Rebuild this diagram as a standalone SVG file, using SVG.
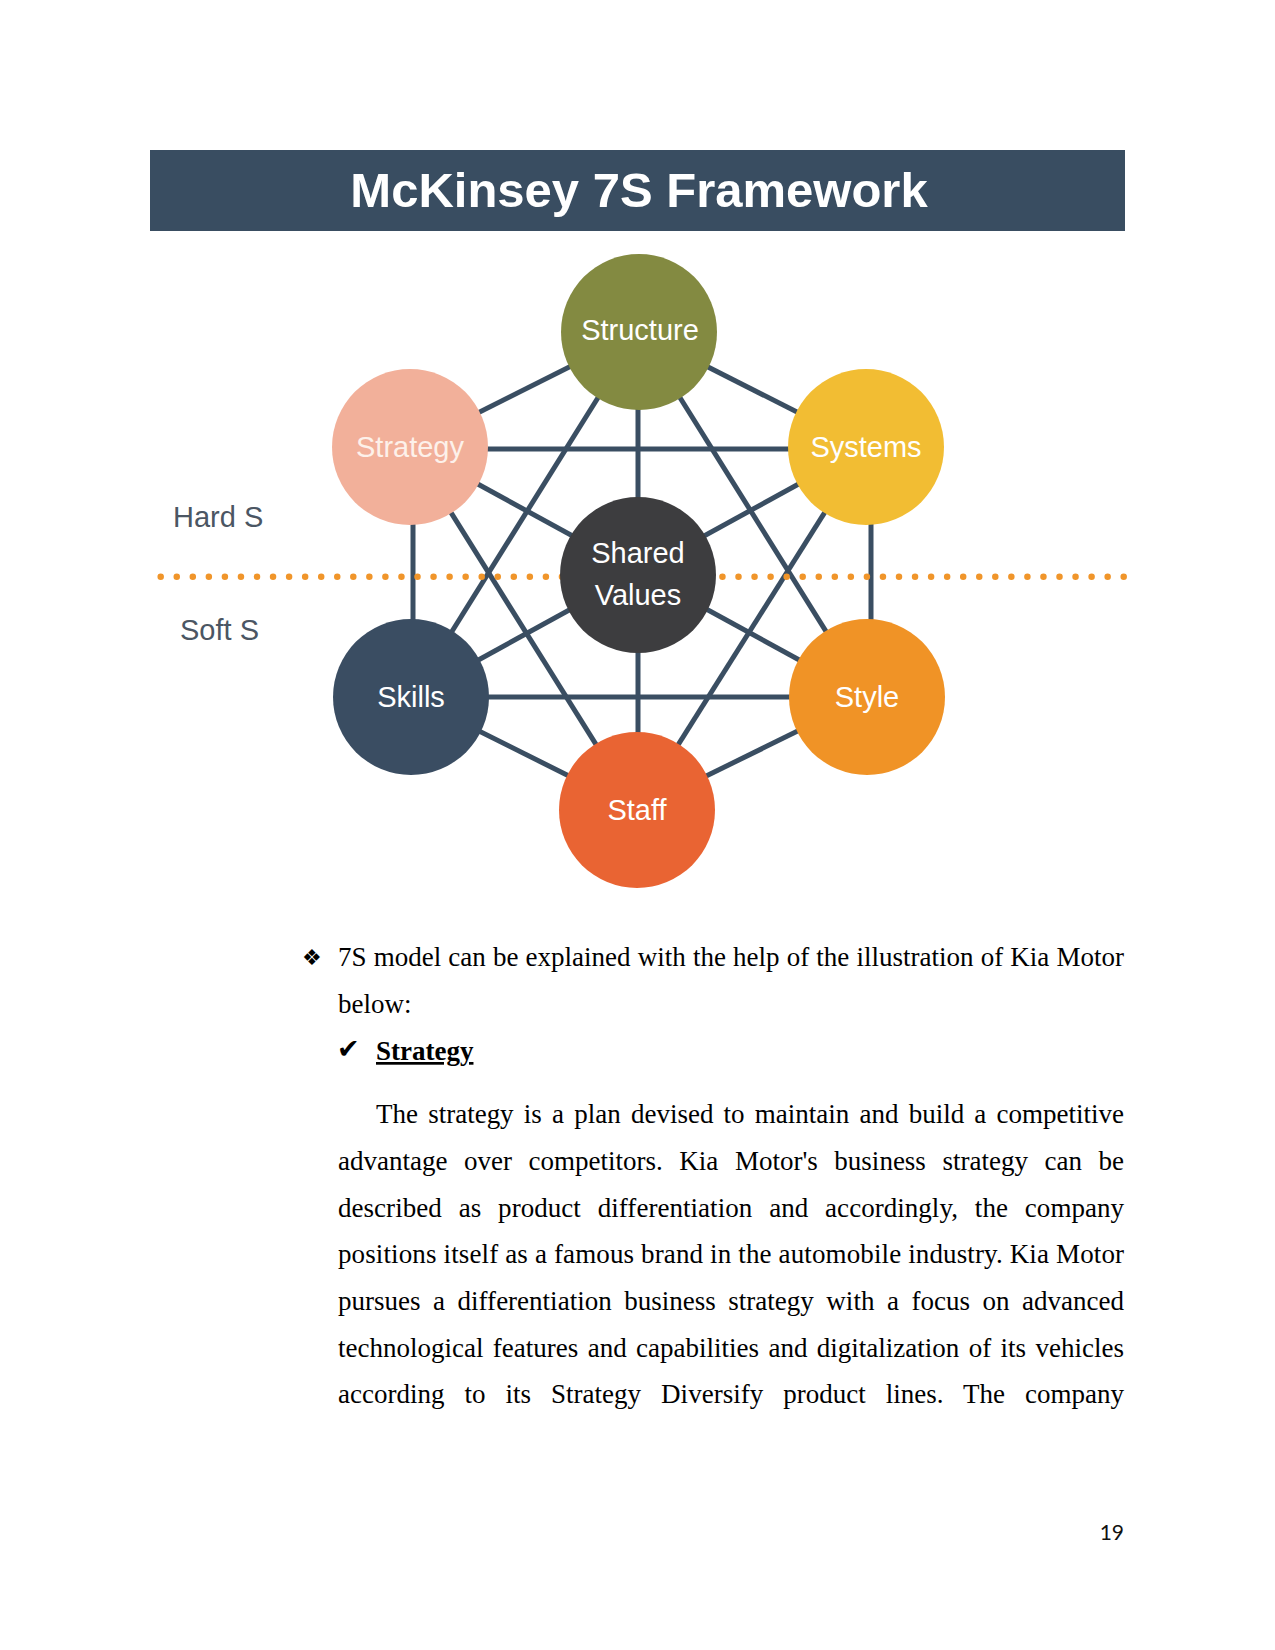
<svg xmlns="http://www.w3.org/2000/svg" width="1275" height="1650" viewBox="0 0 1275 1650">
<style>
.lbl{font-family:"Liberation Sans",Arial,sans-serif;font-size:29px;fill:#ffffff;text-anchor:middle}
.side{font-family:"Liberation Sans",Arial,sans-serif;font-size:29px;fill:#4b5663}
.edge{stroke:#3a4e62;stroke-width:5;fill:none}
.body{font-family:"Liberation Serif","Times New Roman",serif;font-size:27px;fill:#000000}
</style>
<rect width="1275" height="1650" fill="#ffffff"/>
<g id="title">
<rect x="150" y="150" width="975" height="81" fill="#394d61"/>
<text x="639" y="207" font-family="Liberation Sans, Arial, sans-serif" font-size="49" font-weight="bold" fill="#ffffff" text-anchor="middle">McKinsey 7S Framework</text>
</g>
<g id="connectors">
<line class="edge" x1="639" y1="332" x2="410" y2="447"/>
<line class="edge" x1="639" y1="332" x2="866" y2="447"/>
<line class="edge" x1="638" y1="332" x2="638" y2="810"/>
<line class="edge" x1="639" y1="332" x2="411" y2="697"/>
<line class="edge" x1="639" y1="332" x2="867" y2="697"/>
<line class="edge" x1="410" y1="449" x2="866" y2="449"/>
<line class="edge" x1="413" y1="447" x2="413" y2="697"/>
<line class="edge" x1="410" y1="447" x2="637" y2="810"/>
<line class="edge" x1="410" y1="447" x2="867" y2="697"/>
<line class="edge" x1="871" y1="447" x2="871" y2="697"/>
<line class="edge" x1="866" y1="447" x2="637" y2="810"/>
<line class="edge" x1="866" y1="447" x2="411" y2="697"/>
<line class="edge" x1="411" y1="697" x2="867" y2="697"/>
<line class="edge" x1="411" y1="697" x2="637" y2="810"/>
<line class="edge" x1="867" y1="697" x2="637" y2="810"/>
</g>
<g id="divider">
<line x1="160.7" y1="576.7" x2="1124" y2="576.7" stroke="#f0952a" stroke-width="6.5" stroke-linecap="round" stroke-dasharray="0 16.05"/>
<text class="side" x="173" y="527">Hard S</text>
<text class="side" x="180" y="640">Soft S</text>
</g>
<g id="structure">
<circle cx="639" cy="332" r="78" fill="#838a41"/>
<text class="lbl" x="640" y="340">Structure</text>
</g>
<g id="strategy">
<circle cx="410" cy="447" r="78" fill="#f2b09a"/>
<text class="lbl" x="410" y="457" style="fill:#fdf1ea">Strategy</text>
</g>
<g id="systems">
<circle cx="866" cy="447" r="78" fill="#f2bd33"/>
<text class="lbl" x="866" y="457">Systems</text>
</g>
<g id="shared-values">
<circle cx="638" cy="575" r="78" fill="#3d3d3f"/>
<text class="lbl" x="638" y="563">Shared</text>
<text class="lbl" x="638" y="605">Values</text>
</g>
<g id="skills">
<circle cx="411" cy="697" r="78" fill="#3a4d62"/>
<text class="lbl" x="411" y="707">Skills</text>
</g>
<g id="style">
<circle cx="867" cy="697" r="78" fill="#f09326"/>
<text class="lbl" x="867" y="707">Style</text>
</g>
<g id="staff">
<circle cx="637" cy="810" r="78" fill="#e96433"/>
<text class="lbl" x="637" y="820">Staff</text>
</g>
<g id="body">
<text x="302" y="965" font-family="DejaVu Sans, sans-serif" font-size="22" fill="#000">❖</text>
<text class="body" x="338" y="966" word-spacing="0.4" textLength="786" lengthAdjust="spacing">7S model can be explained with the help of the illustration of Kia Motor</text>
<text class="body" x="338" y="1013">below:</text>
<text x="337" y="1058" font-family="DejaVu Sans, sans-serif" font-size="27" fill="#000">✔</text>
<text class="body" x="376" y="1060" font-weight="bold" text-decoration="underline">Strategy</text>
<text class="body" x="376" y="1123" word-spacing="3.47" textLength="748" lengthAdjust="spacing">The strategy is a plan devised to maintain and build a competitive</text>
<text class="body" x="338" y="1170" word-spacing="9.8" textLength="786" lengthAdjust="spacing">advantage over competitors. Kia Motor's business strategy can be</text>
<text class="body" x="338" y="1216.7" word-spacing="10.1" textLength="786" lengthAdjust="spacing">described as product differentiation and accordingly, the company</text>
<text class="body" x="338" y="1263.3" word-spacing="0.07" textLength="786" lengthAdjust="spacing">positions itself as a famous brand in the automobile industry. Kia Motor</text>
<text class="body" x="338" y="1310" word-spacing="5.77" textLength="786" lengthAdjust="spacing">pursues a differentiation business strategy with a focus on advanced</text>
<text class="body" x="338" y="1356.7" word-spacing="2.65" textLength="786" lengthAdjust="spacing">technological features and capabilities and digitalization of its vehicles</text>
<text class="body" x="338" y="1403.3" word-spacing="13.2" textLength="786" lengthAdjust="spacing">according to its Strategy Diversify product lines. The company</text>
</g>
<g id="page-number">
<text x="1124" y="1540" font-family="Lato, Liberation Sans, sans-serif" font-size="21" fill="#111" text-anchor="end">19</text>
</g>
</svg>
